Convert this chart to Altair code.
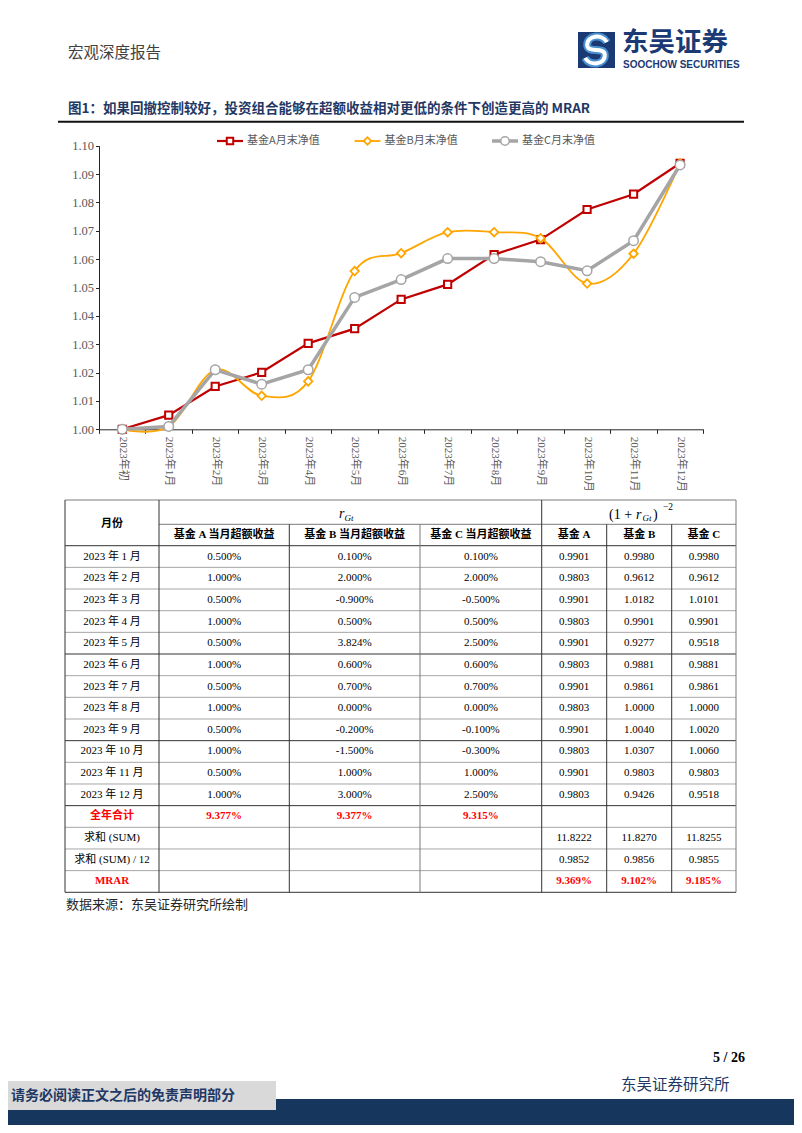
import altair as alt
import pandas as pd

# ---------------- data ----------------
months = ["2023年初", "2023年1月", "2023年2月", "2023年3月", "2023年4月", "2023年5月",
          "2023年6月", "2023年7月", "2023年8月", "2023年9月", "2023年10月", "2023年11月", "2023年12月"]
series_names = ["基金A月末净值", "基金B月末净值", "基金C月末净值"]
nav_a = [1.0000, 1.0050, 1.0151, 1.0201, 1.0303, 1.0355, 1.0458, 1.0511, 1.0616, 1.0669, 1.0775, 1.0829, 1.0938]
nav_b = [1.0000, 1.0010, 1.0210, 1.0118, 1.0169, 1.0558, 1.0621, 1.0695, 1.0695, 1.0674, 1.0514, 1.0619, 1.0938]
nav_c = [1.0000, 1.0010, 1.0210, 1.0159, 1.0210, 1.0465, 1.0528, 1.0602, 1.0602, 1.0591, 1.0559, 1.0665, 1.0932]
y_ticks = [1.00, 1.01, 1.02, 1.03, 1.04, 1.05, 1.06, 1.07, 1.08, 1.09, 1.10]

table_months = ["2023 年 1 月", "2023 年 2 月", "2023 年 3 月", "2023 年 4 月", "2023 年 5 月", "2023 年 6 月",
                "2023 年 7 月", "2023 年 8 月", "2023 年 9 月", "2023 年 10 月", "2023 年 11 月", "2023 年 12 月"]
col_headers = ["基金 A 当月超额收益", "基金 B 当月超额收益", "基金 C 当月超额收益", "基金 A", "基金 B", "基金 C"]
ret_a = ["0.500%", "1.000%", "0.500%", "1.000%", "0.500%", "1.000%", "0.500%", "1.000%", "0.500%", "1.000%", "0.500%", "1.000%"]
ret_b = ["0.100%", "2.000%", "-0.900%", "0.500%", "3.824%", "0.600%", "0.700%", "0.000%", "-0.200%", "-1.500%", "1.000%", "3.000%"]
ret_c = ["0.100%", "2.000%", "-0.500%", "0.500%", "2.500%", "0.600%", "0.700%", "0.000%", "-0.100%", "-0.300%", "1.000%", "2.500%"]
f_a = ["0.9901", "0.9803", "0.9901", "0.9803", "0.9901", "0.9803", "0.9901", "0.9803", "0.9901", "0.9803", "0.9901", "0.9803"]
f_b = ["0.9980", "0.9612", "1.0182", "0.9901", "0.9277", "0.9881", "0.9861", "1.0000", "1.0040", "1.0307", "0.9803", "0.9426"]
f_c = ["0.9980", "0.9612", "1.0101", "0.9901", "0.9518", "0.9881", "0.9861", "1.0000", "1.0020", "1.0060", "0.9803", "0.9518"]
total_label = "全年合计"
total_row = ["9.377%", "9.377%", "9.315%"]
sum_label = "求和 (SUM)"
sum_row = ["11.8222", "11.8270", "11.8255"]
avg_label = "求和 (SUM) / 12"
avg_row = ["0.9852", "0.9856", "0.9855"]
mrar_label = "MRAR"
mrar_row = ["9.369%", "9.102%", "9.185%"]

# ---------------- styles ----------------
SANS = "'Noto Sans CJK SC', sans-serif"
SERIF = "'Liberation Serif', 'Noto Sans CJK SC', serif"
NAVY = "#1F3864"
LOGO = "#1B3A73"
BAND = "#17365D"
RED_L = "#C00000"
ORANGE = "#FFA500"
GRAY = "#A5A5A5"
RED_T = "#FF0000"
W, H = 786, 1117

ONE = pd.DataFrame({"k": [0]})


def txt(s, x, y, size, color="#000000", font=SANS, weight="normal", align="left",
        baseline="middle", style="normal"):
    return alt.Chart(ONE).mark_text(text=s, align=align, baseline=baseline, fontSize=size,
                                    color=color, font=font, fontWeight=weight,
                                    fontStyle=style).encode(x=alt.value(x), y=alt.value(y))


def box(x1, x2, y1, y2, color):
    return alt.Chart(ONE).mark_rect(color=color).encode(
        x=alt.value(x1), x2=alt.value(x2), y=alt.value(y1), y2=alt.value(y2))


def hline(x1, x2, y, color, w):
    return alt.Chart(ONE).mark_rule(color=color, strokeWidth=w).encode(
        x=alt.value(x1), x2=alt.value(x2), y=alt.value(y))


def logo_stroke(color, width):
    path = ("M0.62,-0.45 C0.35,-0.95 -0.55,-0.85 -0.5,-0.25 C-0.45,0.2 0.45,-0.2 0.5,0.25 "
            "C0.55,0.85 -0.35,0.95 -0.62,0.45")
    return alt.Chart(ONE).mark_point(shape=path, size=1225, filled=False, color=color,
                                     strokeWidth=width, opacity=1).encode(x=alt.value(588), y=alt.value(42))


# ---------------- page decorations ----------------
decor = [
    txt("宏观深度报告", 60, 45, 15.5, color="#404040"),
    box(570, 607, 24, 60, LOGO),
    logo_stroke("#4A90D0", 8),
    logo_stroke("white", 4),
    txt("东吴证券", 614, 35, 26.5, color=LOGO, weight="bold"),
    txt("SOOCHOW SECURITIES", 615, 57, 10, color=LOGO, weight="bold",
        font="'Liberation Sans Narrow', 'Liberation Sans', sans-serif"),
    txt("图1：如果回撤控制较好，投资组合能够在超额收益相对更低的条件下创造更高的 MRAR", 60, 101, 13.5,
        color=NAVY, weight="bold"),
    hline(50, 736, 113.7, "#111111", 2),
    txt("数据来源：东吴证券研究所绘制", 58, 896.5, 13, color="#262626"),
    txt("5 / 26", 737, 1050, 14, color="#000000", weight="bold", font=SERIF, align="right"),
    txt("东吴证券研究所", 613, 1076.5, 15.5, color=NAVY),
    box(0, W, 1091, H, BAND),
    box(0, 268, 1073, 1102, "#D9D9D9"),
    txt("请务必阅读正文之后的免责声明部分", 3, 1088, 14, color=NAVY, weight="bold"),
    # table header math:  r_Gt   and   (1 + r_Gt)^-2
    txt("r", 331, 506, 14, font=SERIF, style="italic"),
    txt("Gt", 336.5, 510, 9, font=SERIF, style="italic"),
    txt("(1 + ", 601, 507, 14, font=SERIF),
    txt("r", 628, 507, 14, font=SERIF, style="italic"),
    txt("Gt", 634.5, 510, 9, font=SERIF, style="italic"),
    txt(")", 645, 507, 14, font=SERIF),
    txt("−2", 655, 499, 9.5, font=SERIF),
]

# ---------------- line chart ----------------
X_AX = alt.Axis(orient="bottom", offset=421.3 - H, title=None, labelAngle=90, labelAlign="left",
                labelBaseline="middle", labelFont=SERIF, labelFontSize=11, labelColor="#595959",
                labelPadding=3, tickBand="extent", tickSize=4, tickColor="#262626",
                domainColor="#262626", domainWidth=1, grid=False, labelOverlap=False)
Y_AX = alt.Axis(orient="left", offset=-91, title=None, values=y_ticks, format=".2f",
                labelFont=SERIF, labelFontSize=12.5, labelColor="#595959", labelPadding=2,
                tickSize=3.5, tickColor="#262626", domainColor="#262626", grid=False)
XE = alt.X("month:N", sort=months, bandPosition=0.5,
           scale=alt.Scale(type="band", domain=months, range=[91, 695.3], paddingInner=0, paddingOuter=0),
           axis=X_AX)
YE = alt.Y("value:Q", scale=alt.Scale(domain=[1.0, 1.1], range=[421.3, 137.7], nice=False, zero=False),
           axis=Y_AX)

styles = [
    dict(color=RED_L, lw=2.2, shape="square", size=52, mw=2.0, interp="linear"),
    dict(color=ORANGE, lw=1.8, shape="diamond", size=72, mw=1.8, interp="cardinal"),
    dict(color=GRAY, lw=3.5, shape="circle", size=90, mw=1.5, interp="linear"),
]
navs = [nav_a, nav_b, nav_c]

line_layers = []
for name, vals, st in zip(series_names, navs, styles):
    df = pd.DataFrame({"month": months, "value": vals, "series": name})
    base = alt.Chart(df).encode(x=XE, y=YE)
    line_layers.append(base.mark_line(color=st["color"], strokeWidth=st["lw"], interpolate=st["interp"]))
    line_layers.append(base.mark_point(shape=st["shape"], size=st["size"], filled=True, fill="white",
                                       stroke=st["color"], strokeWidth=st["mw"], opacity=1))
main = alt.layer(*line_layers)

# ---------------- legend ----------------
leg_df = pd.DataFrame({"series": series_names, "idx": [0, 1, 2]})
LX = alt.X("idx:Q", scale=alt.Scale(domain=[0, 2], range=[222, 497], nice=False, zero=False), axis=None)
leg_layers = []
for name, st in zip(series_names, styles):
    b = alt.Chart(leg_df).transform_filter(alt.datum.series == name).encode(x=LX, y=alt.value(133))
    leg_layers.append(b.mark_point(shape="M-1,0H1", size=676, filled=False, color=st["color"],
                                   strokeWidth=st["lw"], opacity=1))
    leg_layers.append(b.mark_point(shape=st["shape"], size=st["size"] * 0.8, filled=True, fill="white",
                                   stroke=st["color"], strokeWidth=st["mw"], opacity=1))
    leg_layers.append(b.mark_text(align="left", baseline="middle", dx=17, fontSize=11, font=SANS,
                                  color="#595959").encode(text="series:N"))
legend = alt.layer(*leg_layers)

# ---------------- table ----------------
COL_EDGES = [57, 151, 281.3, 412, 533.7, 598.7, 663.7, 728]
TX = alt.Scale(domain=list(range(8)), range=COL_EDGES, nice=False, zero=False)
TY = alt.Scale(domain=[0, 1, 2, 18], range=[492, 516.3, 537.7, 884.3], nice=False, zero=False)
KIND = alt.Scale(domain=["dark", "mid", "light"], range=["#333333", "#7a7a7a", "#a6a6a6"])

v_rows = [(0, 0, 18, "dark"), (1, 0, 18, "dark"), (2, 1, 18, "dark"), (3, 1, 18, "mid"),
          (4, 0, 18, "dark"), (5, 1, 18, "dark"), (6, 1, 18, "dark"), (7, 0, 18, "mid")]
vdf = pd.DataFrame(v_rows, columns=["ci", "r0", "r1", "kind"])
h_rows = [(0, 0, 7, "mid"), (1, 1, 7, "mid"), (2, 0, 7, "dark")]
for r in range(3, 18):
    h_rows.append((r, 0, 7, "dark" if r in (7, 11, 14) else "light"))
h_rows.append((18, 0, 7, "dark"))
hdf = pd.DataFrame(h_rows, columns=["rj", "c0", "c1", "kind"])

vlines = alt.Chart(vdf).mark_rule(strokeWidth=1).encode(
    x=alt.X("ci:Q", scale=TX, axis=None), y=alt.Y("r0:Q", scale=TY, axis=None), y2="r1:Q",
    color=alt.Color("kind:N", scale=KIND, legend=None))
hlines = alt.Chart(hdf).mark_rule(strokeWidth=1).encode(
    x=alt.X("c0:Q", scale=TX, axis=None), x2="c1:Q", y=alt.Y("rj:Q", scale=TY, axis=None),
    color=alt.Color("kind:N", scale=KIND, legend=None))

normal, bold, red = [], [], []
bold.append(("月份", 0.5, 1.0))
for j, h in enumerate(col_headers):
    bold.append((h, j + 1.5, 1.5))
for i, m in enumerate(table_months):
    yc = 2.5 + i
    normal.append((m, 0.5, yc))
    for j, col in enumerate([ret_a, ret_b, ret_c, f_a, f_b, f_c]):
        normal.append((col[i], j + 1.5, yc))
red.append((total_label, 0.5, 14.5))
for j, v in enumerate(total_row):
    red.append((v, j + 1.5, 14.5))
normal.append((sum_label, 0.5, 15.5))
for j, v in enumerate(sum_row):
    normal.append((v, j + 4.5, 15.5))
normal.append((avg_label, 0.5, 16.5))
for j, v in enumerate(avg_row):
    normal.append((v, j + 4.5, 16.5))
red.append((mrar_label, 0.5, 17.5))
for j, v in enumerate(mrar_row):
    red.append((v, j + 4.5, 17.5))


def text_layer(rows, color, weight):
    df = pd.DataFrame(rows, columns=["t", "xc", "yc"])
    return alt.Chart(df).mark_text(fontSize=11, font=SERIF, color=color, fontWeight=weight,
                                   baseline="middle", align="center").encode(
        x=alt.X("xc:Q", scale=TX, axis=None), y=alt.Y("yc:Q", scale=TY, axis=None), text="t:N")


table = alt.layer(hlines, vlines, text_layer(normal, "#000000", "normal"),
                  text_layer(bold, "#000000", "bold"), text_layer(red, RED_T, "bold"))

chart = alt.layer(*decor, main, legend, table).resolve_scale(
    x="independent", y="independent", color="independent"
).properties(
    width=W, height=H, padding=0, autosize=alt.AutoSizeParams(type="none"), background="white"
).configure_view(stroke=None)

chart.save("out.html", embed_options={"renderer": "svg", "actions": False})
